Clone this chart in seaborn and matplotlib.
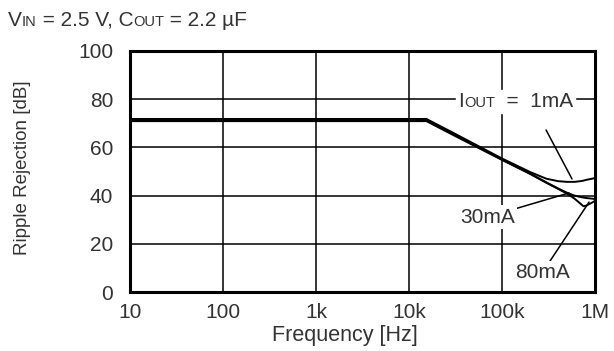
import numpy as np
import pandas as pd
import matplotlib
matplotlib.use("Agg")
import matplotlib.pyplot as plt
import seaborn as sns
from matplotlib.offsetbox import TextArea, HPacker, AnnotationBbox

# ---------------- data ----------------
freq_hz = [10, 100, 1000, 10000, 15400, 30000, 100000, 200000, 300000,
           400000, 500000, 600000, 700000, 750000, 800000, 900000, 1000000]
rr_1ma = [71.8, 71.8, 71.8, 71.8, 71.8, 66.0, 55.4, 49.8, 47.0,
          46.0, 45.7, 45.7, 46.0, 46.2, 46.5, 46.9, 47.3]
rr_30ma = [71.3, 71.3, 71.3, 71.3, 71.3, 65.5, 55.0, 49.2, 45.5,
           43.0, 41.2, 40.0, 39.4, 39.2, 39.0, 38.8, 38.6]
rr_80ma = [70.9, 70.9, 70.9, 70.9, 70.9, 65.1, 54.8, 49.0, 45.3,
           42.8, 40.8, 38.8, 36.6, 35.6, 35.8, 36.8, 37.8]
series_names = ["1mA", "30mA", "80mA"]
x_ticks = [10, 100, 1000, 10000, 100000, 1000000]
x_tick_labels = ["10", "100", "1k", "10k", "100k", "1M"]
y_ticks = [0, 20, 40, 60, 80, 100]

df = pd.DataFrame({
    "freq": freq_hz * 3,
    "rr": rr_1ma + rr_30ma + rr_80ma,
    "current": sum([[n] * len(freq_hz) for n in series_names], []),
})

# ---------------- style ----------------
sns.set_style("white")
plt.rcParams["font.family"] = ["Liberation Sans", "DejaVu Sans"]
TXT = "#333333"

W, H = 614, 351
fig = plt.figure(figsize=(W / 100, H / 100), dpi=100)
L, R, T, B = 130, 595, 51, 292
ax = fig.add_axes([L / W, 1 - B / H, (R - L) / W, (B - T) / H])

sns.lineplot(data=df, x="freq", y="rr", hue="current",
             palette=["black"] * 3, legend=False, linewidth=1.4, ax=ax,
             zorder=3)

ax.set_xscale("log")
ax.set_xlim(10, 1e6)
ax.set_ylim(0, 100)
ax.set_xticks(x_ticks)
ax.set_xticklabels(x_tick_labels)
ax.xaxis.set_minor_locator(matplotlib.ticker.NullLocator())
ax.set_yticks(y_ticks)
ax.grid(True, color="black", linewidth=1.1, zorder=1)
ax.set_axisbelow(True)
for s in ax.spines.values():
    s.set_visible(True)
    s.set_color("black")
    s.set_linewidth(2.2)
ax.tick_params(axis="x", length=0, pad=8, labelsize=15, labelcolor=TXT)
ax.tick_params(axis="y", length=0, pad=12, labelsize=15, labelcolor=TXT)

ax.set_xlabel("Frequency [Hz]", fontsize=15.5, color=TXT, va="center")
ax.xaxis.set_label_coords((345 - L) / (R - L), (B - 335) / (B - T))
ax.set_ylabel("Ripple Rejection [dB]", fontsize=13.5, color=TXT, va="center")
ax.yaxis.set_label_coords((23 - L) / (R - L), (B - 168) / (B - T))

# ---------------- title with small-caps subscripts ----------------
big, small = 15, 10.5
def ta(s, size):
    return TextArea(s, textprops=dict(fontsize=size, color=TXT))

title = HPacker(children=[ta("V", big), ta("IN", small), ta(" = 2.5 V, C", big),
                          ta("OUT", small), ta(" = 2.2 \u00b5F", big)],
                align="baseline", pad=0, sep=0)
fig.add_artist(AnnotationBbox(title, (8, H - 30), xycoords="figure pixels",
                              box_alignment=(0, 0), frameon=False))

# ---------------- annotations ----------------
ann = 15
iout = HPacker(children=[ta("I", ann), ta("OUT", 10.5), ta("  =  1mA", ann)],
               align="baseline", pad=0, sep=0)
ab = AnnotationBbox(iout, (34000, 79.0), xycoords="data", box_alignment=(0, 0.5),
                    frameon=True, pad=0.15, zorder=4)
ab.patch.set_facecolor("white")
ab.patch.set_edgecolor("white")
ax.add_artist(ab)

ax.annotate("", xy=(566000, 46.9), xytext=(298000, 67.2),
            arrowprops=dict(arrowstyle="-", color="black", lw=1.1,
                            shrinkA=0, shrinkB=0), zorder=4)

ax.annotate("30mA", xy=(526000, 41.1), xytext=(69300, 31.1),
            fontsize=ann, color=TXT, ha="center", va="center",
            bbox=dict(boxstyle="square,pad=0.1", fc="white", ec="none"),
            arrowprops=dict(arrowstyle="-", color="black", lw=1.1,
                            shrinkA=0, shrinkB=0), zorder=4)

ax.annotate("80mA", xy=(863000, 37.3), xytext=(270000, 7.9),
            fontsize=ann, color=TXT, ha="center", va="center",
            bbox=dict(boxstyle="square,pad=0.1", fc="white", ec="none"),
            arrowprops=dict(arrowstyle="-", color="black", lw=1.1,
                            shrinkA=0, shrinkB=0), zorder=4)

fig.savefig("out.png", dpi=100)
